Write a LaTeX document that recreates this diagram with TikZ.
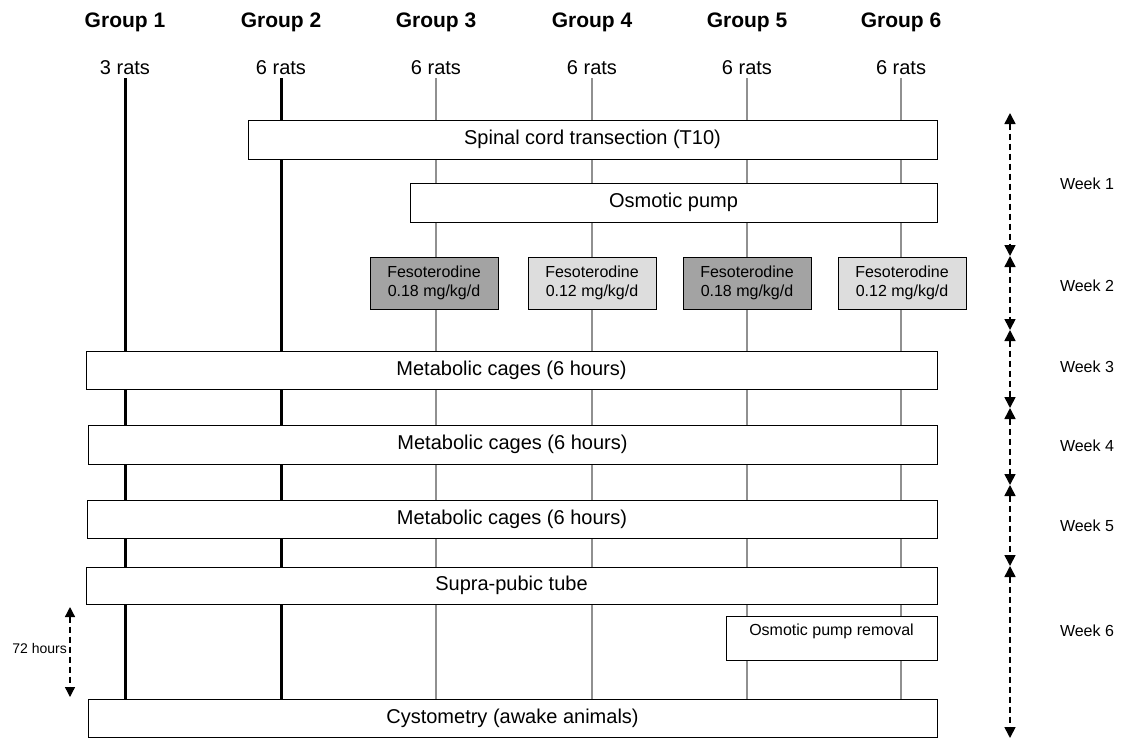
\documentclass[tikz,border=0pt]{standalone}
\usepackage{fontspec}
\setmainfont{Liberation Sans}
\usetikzlibrary{arrows.meta}
\definecolor{darkfill}{HTML}{A3A3A3}
\definecolor{lightfill}{HTML}{DDDDDD}
\definecolor{linegray}{HTML}{909090}
\tikzstyle{stage box}=[
        draw = black,
        line width = 1pt,
        fill = white,
        inner sep = 0pt,
        font = \fontsize{20}{24}\selectfont
    ]
\tikzstyle{dose box}=[
    draw = black,
    line width = 1pt,
    minimum width = 128pt,
    minimum height = 52pt,
    inner sep = 0pt,
    align = center,
    font = \fontsize{16}{19}\selectfont
]
\tikzstyle{week arrow}=[
    line width = 1.6pt,
    dash pattern = on 6pt off 4pt,
    {Triangle[width=11pt,length=11pt]}-{Triangle[width=11pt,length=11pt]}
]

\begin{document}
\begin{tikzpicture}[x=1pt, y=-1pt,
    group/.style = {font=\fontsize{21}{24}\selectfont\bfseries},
    rats/.style = {font=\fontsize{20}{24}\selectfont, inner sep=3pt},
    week/.style = {font=\fontsize{16}{19}\selectfont}]
        \useasboundingbox (0,0) rectangle (1135,740);

        % group headers
        \node[group] (g1) at (125,22) {Group 1};
        \node[group] (g2) at (281,22) {Group 2};
        \node[group] (g3) at (436,22) {Group 3};
        \node[group] (g4) at (592,22) {Group 4};
        \node[group] (g5) at (747,22) {Group 5};
        \node[group] (g6) at (901,22) {Group 6};

        \node[rats] (r1) at (125,68) {3 rats};
        \node[rats] (r2) at (281,68) {6 rats};
        \node[rats] (r3) at (436,68) {6 rats};
        \node[rats] (r4) at (592,68) {6 rats};
        \node[rats] (r5) at (747,68) {6 rats};
        \node[rats] (r6) at (901,68) {6 rats};

        \node[stage box, minimum width=849pt, minimum height=38pt] (cyst) at (512.5,718) {Cystometry (awake animals)};

        % time lines of each group
        \draw[line width=3pt] (r1.south) -- (r1.south |- cyst.north);
        \draw[line width=3pt] (r2.south) -- (r2.south |- cyst.north);
        \foreach \g in {3,4,5,6}
            \draw[line width=2.6pt, linegray] (r\g.south) -- (r\g.south |- cyst.north);

        % procedures
        \node[stage box, minimum width=689pt, minimum height=39pt] (sci) at (592.5,139.5) {Spinal cord transection (T10)};
        \node[stage box, minimum width=527pt, minimum height=39pt] (pump) at (673.5,202.5) {Osmotic pump};

        \node[dose box, fill=darkfill] (d3) at (434,283) {Fesoterodine\\0.18 mg/kg/d};
        \node[dose box, fill=lightfill] (d4) at (592,283) {Fesoterodine\\0.12 mg/kg/d};
        \node[dose box, fill=darkfill] (d5) at (747,283) {Fesoterodine\\0.18 mg/kg/d};
        \node[dose box, fill=lightfill] (d6) at (902,283) {Fesoterodine\\0.12 mg/kg/d};

        \node[stage box, minimum width=851pt, minimum height=38pt] (mc1) at (511.5,370) {Metabolic cages (6 hours)};
        \node[stage box, minimum width=849pt, minimum height=39pt] (mc2) at (512.5,444.5) {Metabolic cages (6 hours)};
        \node[stage box, minimum width=850pt, minimum height=38pt] (mc3) at (512,519) {Metabolic cages (6 hours)};
        \node[stage box, minimum width=851pt, minimum height=37pt] (spt) at (511.5,585.5) {Supra-pubic tube};
        \node[stage box, font=\fontsize{16}{19}\selectfont, minimum width=211pt,
              text height=15pt, text depth=21pt, inner ysep=4pt] (rem) at (831.5,638) {Osmotic pump removal};

        % 72 hours
        \coordinate (h0) at (70,607);
        \coordinate (h1) at (70,697);
        \draw[week arrow, line width=1.3pt, {Triangle[width=10pt,length=10pt]}-{Triangle[width=10pt,length=10pt]}] (h0) -- (h1);
        \node[font=\fontsize{14}{17}\selectfont, anchor=east, inner sep=1pt] (hrs) at (68,648) {72 hours};

        % weeks
        \coordinate (w0) at (1010,113);
        \coordinate (w1) at (1010,256);
        \coordinate (w2) at (1010,330);
        \coordinate (w3) at (1010,408);
        \coordinate (w4) at (1010,485);
        \coordinate (w5) at (1010,566);
        \coordinate (w6) at (1010,738);
        \draw[week arrow] (w0) -- (w1);
        \draw[week arrow] (w1) -- (w2);
        \draw[week arrow] (w2) -- (w3);
        \draw[week arrow] (w3) -- (w4);
        \draw[week arrow] (w4) -- (w5);
        \draw[week arrow] (w5) -- (w6);

        \node[week] (wk1) at (1087,184) {Week 1};
        \node[week] (wk2) at (1087,286) {Week 2};
        \node[week] (wk3) at (1087,367) {Week 3};
        \node[week] (wk4) at (1087,446) {Week 4};
        \node[week] (wk5) at (1087,526) {Week 5};
        \node[week] (wk6) at (1087,631) {Week 6};

    \end{tikzpicture}
\end{document}
